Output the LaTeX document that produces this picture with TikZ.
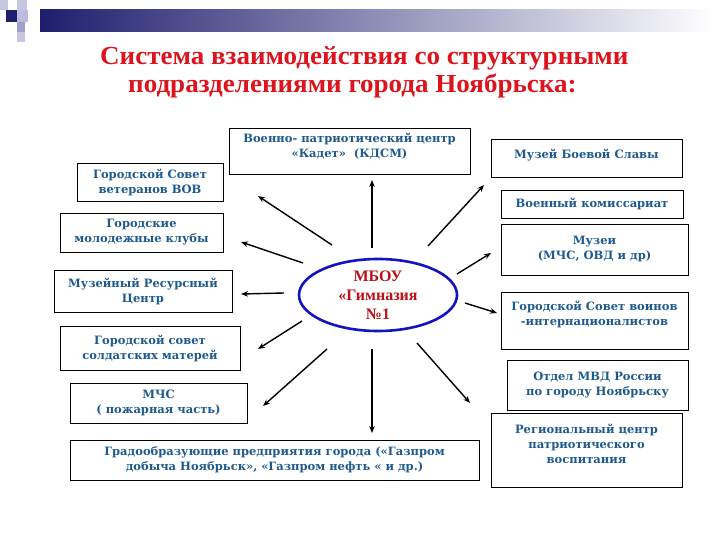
\documentclass[tikz,border=0pt]{standalone}
\usepackage{fontspec}
\setmainfont{Liberation Serif}
\newfontfamily\boxfont{DejaVu Serif}
\usetikzlibrary{shapes.geometric,arrows.meta}
\definecolor{navyb}{RGB}{30,30,110}
\definecolor{lav}{RGB}{160,160,205}
\definecolor{boxblue}{RGB}{30,90,140}
\definecolor{titlered}{RGB}{220,20,30}
\definecolor{ellblue}{RGB}{20,20,190}
\tikzset{
  box/.style={draw=black, line width=0.8pt, inner sep=1pt, align=center,
    font=\boxfont\bfseries\fontsize{11.5}{15}\selectfont, text=boxblue},
  ray/.style={line width=1.4pt, -{Stealth[length=7pt,width=5.5pt]}},
  ttl/.style={font=\bfseries\fontsize{26}{28}\selectfont, text=titlered, inner sep=0pt, xscale=1.04}
}
\begin{document}
\begin{tikzpicture}[x=1pt,y=-1pt]
\useasboundingbox (0,0) rectangle (720,540);
\fill[white] (0,0) rectangle (720,540);
% header
\shade[left color=navyb, right color=white] (40,10) rectangle (715,32);
\fill[lav!60] (0,0) rectangle (8,10);
\fill[lav!60] (17,0) rectangle (27,10);
\fill[navyb] (6,10) rectangle (17,22);
\fill[lav!70] (17,10) rectangle (28,22);
\fill[lav] (17,22) rectangle (25,32);
\fill[lav!60] (17,32) rectangle (25,42);
% title
\node[ttl, anchor=west] (t1) at (100,58) {Система взаимодействия со структурными};
\node[ttl, anchor=west] (t2) at (128,86) {подразделениями города Ноябрьска:};
% boxes
\node[box, minimum width=241, minimum height=46] (mil) at (349.5,151) {Военно- патриотический центр\\«Кадет»\ \ (КДСМ)\\[-4pt]\ };
\node[box, minimum width=146, minimum height=38] (vov) at (150,182) {Городской Совет\\ветеранов ВОВ};
\node[box, minimum width=163, minimum height=39] (clubs) at (141.5,232.5) {Городские\\молодежные клубы};
\node[box, minimum width=178, minimum height=42] (mrc) at (143,291) {Музейный Ресурсный\\Центр};
\node[box, minimum width=180, minimum height=44] (moth) at (150,348) {Городской совет\\солдатских матерей};
\node[box, minimum width=177, minimum height=40] (mchs) at (158.5,403) {МЧС\\( пожарная часть)};
\node[box, minimum width=409, minimum height=40] (grad) at (274.5,460) {Градообразующие предприятия города («Газпром\\добыча Ноябрьск», «Газпром нефть « и др.)};
\node[box, minimum width=191, minimum height=38] (slava) at (586.5,158) {Музей Боевой Славы\\[-6pt]\ };
\node[box, minimum width=182, minimum height=28] (kom) at (592,204) {Военный комиссариат};
\node[box, minimum width=187, minimum height=51] (muz) at (594.5,249.5) {Музеи\\(МЧС, ОВД и др)};
\node[box, minimum width=187, minimum height=57] (voin) at (594.5,320.5) {Городской Совет воинов\\-интернационалистов\\ };
\node[box, minimum width=181, minimum height=50] (mvd) at (597.5,385) {Отдел МВД России\\по городу Ноябрьску};
\node[box, minimum width=191, minimum height=74] (reg) at (586.5,450) {Региональный центр\\патриотического\\воспитания\\[-3pt]\ };
% center
\node[draw=ellblue, line width=2.6pt, ellipse, minimum width=158, minimum height=72, inner sep=0pt,
  align=center, text=titlered!85!black, font=\bfseries\fontsize{16}{19}\selectfont] (c) at (378,295)
  {МБОУ\\«Гимназия\\№1};
% arrow ends
\coordinate (s1) at (372,248); \coordinate (e1) at (372,180);
\coordinate (s2) at (332,245); \coordinate (e2) at (258,196);
\coordinate (s3) at (303,263); \coordinate (e3) at (241,242);
\coordinate (s4) at (284,293); \coordinate (e4) at (241,294);
\coordinate (s5) at (302,321); \coordinate (e5) at (258,349);
\coordinate (s6) at (327,349); \coordinate (e6) at (263,406);
\coordinate (s7) at (372,349); \coordinate (e7) at (372,433);
\coordinate (s8) at (417,343); \coordinate (e8) at (470,403);
\coordinate (s9) at (465,303); \coordinate (e9) at (497,313);
\coordinate (s10) at (457,274); \coordinate (e10) at (491,253);
\coordinate (s11) at (428,246); \coordinate (e11) at (484,185);
\foreach \i in {1,...,11} { \draw[ray] (s\i) -- (e\i); }
\end{tikzpicture}
\end{document}
